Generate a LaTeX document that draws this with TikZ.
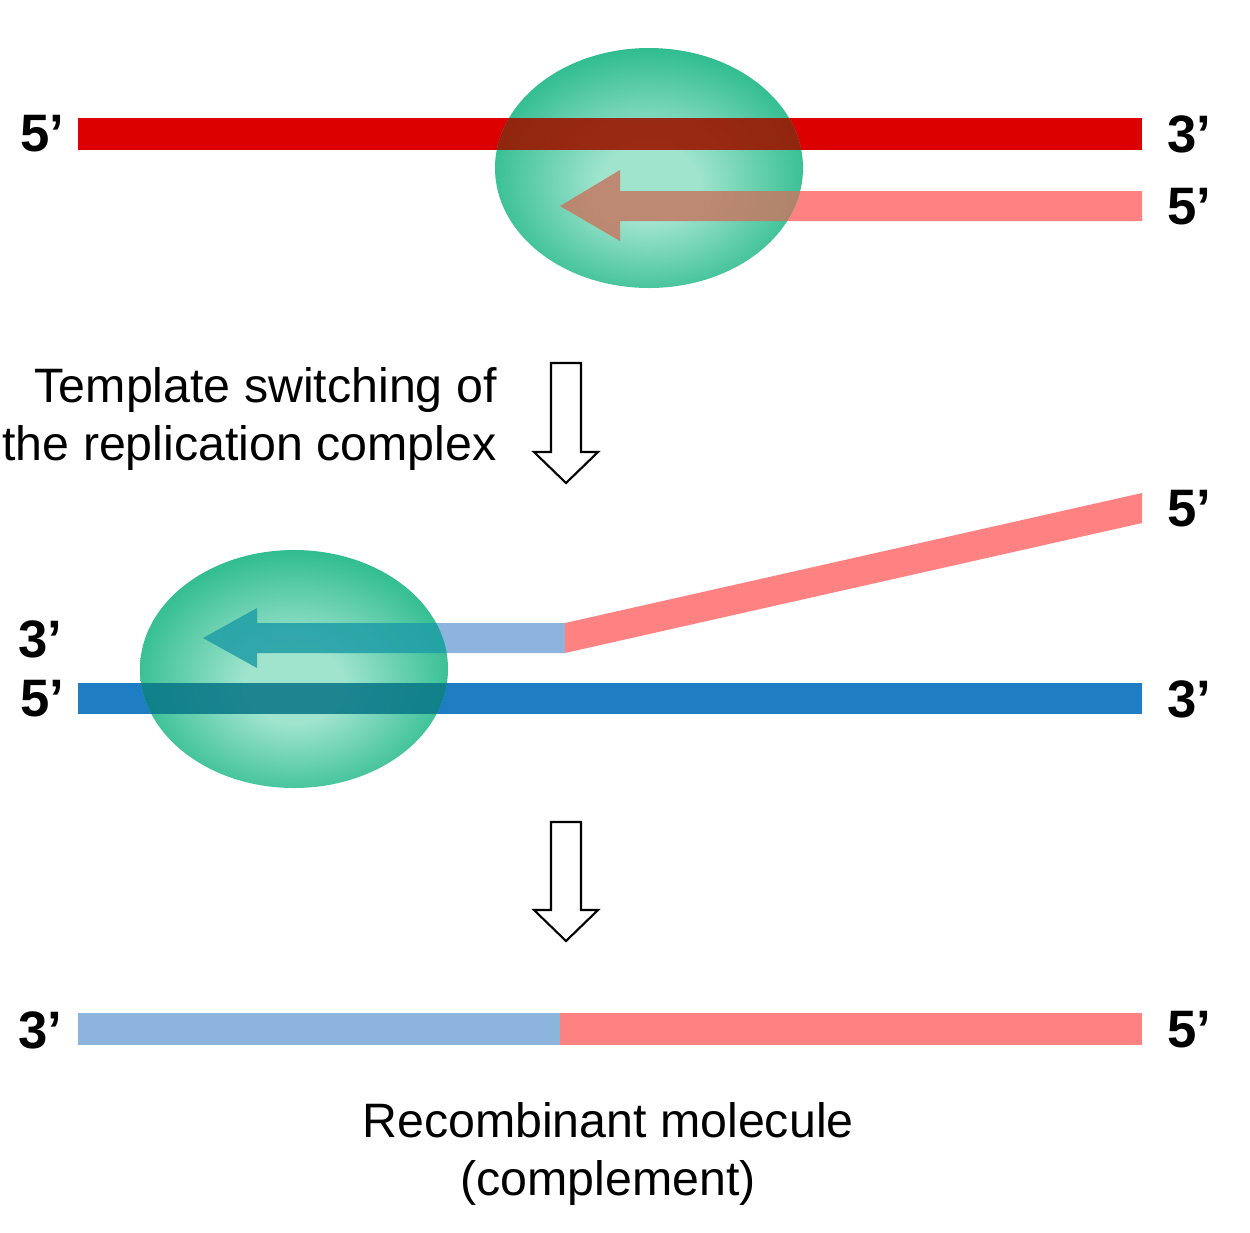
\documentclass[tikz,border=0pt]{standalone}
\usepackage{fontspec}
\setmainfont{Liberation Sans}
\definecolor{redS}{RGB}{221,0,0}
\definecolor{pinkS}{RGB}{255,130,130}
\definecolor{blueS}{RGB}{31,125,196}
\definecolor{lblueS}{RGB}{140,180,220}
\definecolor{cellout}{RGB}{0,160,108}
\definecolor{cellmid}{RGB}{30,182,134}
\definecolor{cellin}{RGB}{160,228,206}
\definecolor{redIn}{RGB}{155,22,0}
\definecolor{pinkIn}{RGB}{196,122,100}
\definecolor{blueIn}{RGB}{10,120,136}
\definecolor{lblueIn}{RGB}{32,158,166}
\pgfdeclareradialshading{cellshade}{\pgfpoint{0bp}{-4bp}}{color(0bp)=(cellin); color(8bp)=(cellin); color(30bp)=(cellmid); color(42bp)=(cellout); color(50bp)=(cellout)}
\tikzset{
  endlabel/.style={font=\fontsize{30}{34}\selectfont\bfseries, inner sep=0pt},
  caption/.style={font=\fontsize{27.5}{32.5}\selectfont, inner sep=0pt},
  hollow/.style={draw=black, line width=1.2pt, fill=white, line join=miter},
  cell/.style={shading=cellshade}
}
\begin{document}
\begin{tikzpicture}[x=0.02cm,y=-0.02cm]
\useasboundingbox (0,0) rectangle (1250,1232);
% ---------- top panel ----------
\fill[redS] (78,118) rectangle (1142,150);
\fill[pinkS] (560,206) -- (620,170) -- (620,191) -- (1142,191) -- (1142,221) -- (620,221) -- (620,241) -- cycle;
\path[cell] (649,168) ellipse [x radius=154, y radius=120];
\begin{scope}
  \clip (649,168) ellipse [x radius=154, y radius=120];
  \fill[redIn, opacity=.9] (78,118) rectangle (1142,150);
  \fill[pinkIn, opacity=.85] (560,206) -- (620,170) -- (620,191) -- (1142,191) -- (1142,221) -- (620,221) -- (620,241) -- cycle;
\end{scope}
\node[endlabel] (l1) at (42,134) {5’};
\node[endlabel] (r1) at (1189,134) {3’};
\node[endlabel] (r2) at (1189,207) {5’};
% ---------- arrow 1 ----------
\draw[hollow] (551,363) -- (581,363) -- (581,452) -- (598,452) -- (566,483) -- (534,452) -- (551,452) -- cycle;
\node[caption, align=right, anchor=east] (t1) at (497,419) {Template switching of\\the replication complex};
% ---------- middle panel ----------
\fill[blueS] (78,683) rectangle (1142,714);
\fill[lblueS] (203,638) -- (257,608) -- (257,623) -- (566,623) -- (566,653) -- (257,653) -- (257,668) -- cycle;
\fill[pinkS] (565,623) -- (1142,493) -- (1142,523) -- (565,653) -- cycle;
\path[cell] (294,669) ellipse [x radius=154, y radius=119];
\begin{scope}
  \clip (294,669) ellipse [x radius=154, y radius=119];
  \fill[blueIn, opacity=.88] (78,683) rectangle (1142,714);
  \fill[lblueIn, opacity=.85] (203,638) -- (257,608) -- (257,623) -- (566,623) -- (566,653) -- (257,653) -- (257,668) -- cycle;
\end{scope}
\node[endlabel] (r3) at (1189,509) {5’};
\node[endlabel] (l2) at (40,639) {3’};
\node[endlabel] (l3) at (42,699) {5’};
\node[endlabel] (r4) at (1189,699) {3’};
% ---------- arrow 2 ----------
\draw[hollow] (551,822) -- (581,822) -- (581,910) -- (598,910) -- (566,941) -- (534,910) -- (551,910) -- cycle;
% ---------- bottom panel ----------
\fill[lblueS] (78,1013) rectangle (560,1045);
\fill[pinkS] (560,1013) rectangle (1142,1045);
\node[endlabel] (l4) at (40,1030) {3’};
\node[endlabel] (r5) at (1189,1030) {5’};
\node[caption, align=center] (t2) at (608,1154) {Recombinant molecule\\(complement)};
\end{tikzpicture}
\end{document}
